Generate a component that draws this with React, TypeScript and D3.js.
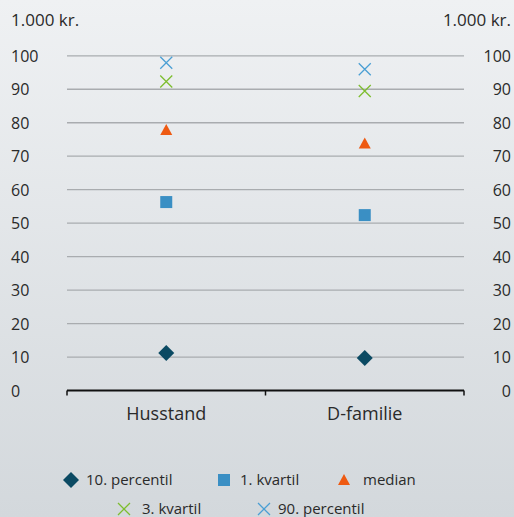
import * as d3 from "d3";
import { useEffect, useRef } from "react";

const categories = ["Husstand", "D-familie"];
const p10 = [11.2, 9.7];
const q1 = [56.3, 52.4];
const median = [77.8, 73.8];
const q3 = [92.3, 89.5];
const p90 = [97.9, 96.0];
const yTicks = [0, 10, 20, 30, 40, 50, 60, 70, 80, 90, 100];

const series = [
  { name: "10. percentil", values: p10, shape: "diamond", color: "#0b4a63" },
  { name: "1. kvartil", values: q1, shape: "square", color: "#3a8fc4" },
  { name: "median", values: median, shape: "triangle", color: "#ee5a12" },
  { name: "3. kvartil", values: q3, shape: "cross", color: "#7dbd2f" },
  { name: "90. percentil", values: p90, shape: "cross", color: "#4a9fd4" },
];

const W = 514, H = 517;
const FONT = "'Open Sans', sans-serif";

function drawMarker(g: d3.Selection<SVGGElement, unknown, null, undefined>, shape: string, color: string, x: number, y: number) {
  if (shape === "diamond") {
    g.append("path").attr("d", `M${x},${y - 8}L${x + 8},${y}L${x},${y + 8}L${x - 8},${y}Z`).attr("fill", color);
  } else if (shape === "square") {
    g.append("rect").attr("x", x - 6).attr("y", y - 6).attr("width", 12).attr("height", 12).attr("fill", color);
  } else if (shape === "triangle") {
    g.append("path").attr("d", `M${x},${y - 6}L${x + 6},${y + 5}L${x - 6},${y + 5}Z`).attr("fill", color);
  } else {
    g.append("path").attr("d", `M${x - 6},${y - 6}L${x + 6},${y + 6}M${x - 6},${y + 6}L${x + 6},${y - 6}`)
      .attr("stroke", color).attr("stroke-width", 1.3).attr("fill", "none");
  }
}

const App = () => {
  const svgRef = useRef<SVGSVGElement | null>(null);

  useEffect(() => {
    const svg = d3.select(svgRef.current);
    svg.selectAll("*").remove();

    const left = 67, right = 464, top = 55.8, bottom = 390.5;

    const defs = svg.append("defs");
    const grad = defs.append("linearGradient").attr("id", "bg").attr("x1", 0).attr("y1", 0).attr("x2", 0).attr("y2", 1);
    grad.append("stop").attr("offset", "0%").attr("stop-color", "#eff1f3");
    grad.append("stop").attr("offset", "100%").attr("stop-color", "#d3d8dc");
    svg.append("rect").attr("width", W).attr("height", H).attr("fill", "url(#bg)");

    const x = d3.scaleBand().domain(categories).range([left, right]);
    const y = d3.scaleLinear().domain([0, 100]).range([bottom, top]);

    // gridlines
    svg.append("g").selectAll("line")
      .data(yTicks.filter(t => t > 0))
      .join("line")
      .attr("x1", left).attr("x2", right)
      .attr("y1", d => y(d)).attr("y2", d => y(d))
      .attr("stroke", "#a9acaf").attr("stroke-width", 1.3);

    // tick labels
    const lab = svg.append("g").style("font-family", FONT).style("font-size", "16px").attr("fill", "#2a2a2a");
    lab.selectAll("text.l").data(yTicks).join("text").attr("class", "l")
      .attr("x", 11).attr("y", d => y(d) + 6).text(d => d);
    lab.selectAll("text.r").data(yTicks).join("text").attr("class", "r")
      .attr("x", 511).attr("y", d => y(d) + 6).attr("text-anchor", "end").text(d => d);
    lab.append("text").attr("x", 11).attr("y", 26).style("font-size", "17px").text("1.000 kr.");
    lab.append("text").attr("x", 511).attr("y", 26).style("font-size", "17px").attr("text-anchor", "end").text("1.000 kr.");

    // x axis
    svg.append("line").attr("x1", left).attr("x2", right).attr("y1", bottom).attr("y2", bottom)
      .attr("stroke", "#111").attr("stroke-width", 2);
    const tickXs = [left, ...categories.map(c => (x(c) as number) + x.bandwidth())];
    svg.append("g").selectAll("line").data(tickXs).join("line")
      .attr("x1", d => d).attr("x2", d => d).attr("y1", bottom).attr("y2", bottom + 5)
      .attr("stroke", "#111").attr("stroke-width", 1.5);
    svg.append("g").selectAll("text").data(categories).join("text")
      .attr("x", d => (x(d) as number) + x.bandwidth() / 2).attr("y", 420)
      .attr("text-anchor", "middle").style("font-family", FONT).style("font-size", "18px")
      .attr("fill", "#2a2a2a").text(d => d);

    // markers
    const mg = svg.append("g");
    series.forEach(s => {
      categories.forEach((c, i) => {
        drawMarker(mg, s.shape, s.color, (x(c) as number) + x.bandwidth() / 2, y(s.values[i]));
      });
    });

    // legend
    const legendPos = [
      [71, 480], [224, 480], [344, 480], [124, 509], [264, 509],
    ];
    const textOff = [15, 16, 19, 18, 14];
    const lg = svg.append("g");
    series.forEach((s, i) => {
      const [lx, ly] = legendPos[i];
      drawMarker(lg, s.shape, s.color, lx, ly);
      lg.append("text").attr("x", lx + textOff[i]).attr("y", ly + 5)
        .style("font-family", FONT).style("font-size", "15px").attr("fill", "#2a2a2a").text(s.name);
    });
  }, []);

  return <svg ref={svgRef} width={W} height={H} style={{ position: "absolute", left: 0, top: 0 }} />;
};

export default App;
